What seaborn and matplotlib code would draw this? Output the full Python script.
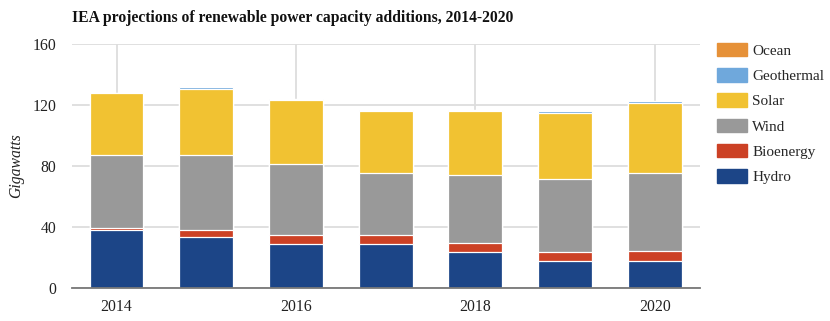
import numpy as np
import pandas as pd
import matplotlib
matplotlib.use("Agg")
import matplotlib.pyplot as plt
from matplotlib.patches import Patch
import seaborn as sns

years = ["2014", "2015", "2016", "2017", "2018", "2019", "2020"]
hydro = [37.8, 33.5, 28.5, 28.5, 23.3, 17.8, 17.8]
bioenergy = [1.6, 4.3, 6.0, 6.0, 6.2, 5.9, 6.4]
wind = [47.5, 49.0, 47.0, 40.9, 44.8, 47.6, 51.4]
solar = [40.8, 43.7, 42.0, 40.4, 42.0, 43.4, 45.8]
geothermal = [0.3, 1.5, 0.3, 1.1, 0.3, 1.3, 1.1]
ocean = [0.0, 0.0, 0.0, 0.0, 0.0, 0.0, 0.0]

series = ["Hydro", "Bioenergy", "Wind", "Solar", "Geothermal", "Ocean"]
colors = {
    "Hydro": "#1c4587",
    "Bioenergy": "#cc4125",
    "Wind": "#999999",
    "Solar": "#f1c232",
    "Geothermal": "#6fa8dc",
    "Ocean": "#e69138",
}

df = pd.DataFrame({
    "year": years, "Hydro": hydro, "Bioenergy": bioenergy, "Wind": wind,
    "Solar": solar, "Geothermal": geothermal, "Ocean": ocean,
})
cum = df[series].cumsum(axis=1)

sns.set_theme(style="white")
plt.rcParams["font.family"] = ["Liberation Serif", "DejaVu Serif"]

fig = plt.figure(figsize=(8.3, 3.21), dpi=100)
ax = fig.add_axes([0.0864, 0.1037, 0.7566, 0.7593])

# stacked bars: draw cumulative totals from the top segment down
for name in reversed(series):
    sns.barplot(x=df["year"], y=cum[name], color=colors[name], width=0.6,
                edgecolor="white", linewidth=0.9, saturation=1, ax=ax, zorder=3)

ax.set_ylim(0, 160)
ax.set_xlim(-0.5, 6.5)
ax.set_yticks([0, 40, 80, 120, 160])
ax.set_xticks([0, 2, 4, 6])
ax.set_xticklabels(["2014", "2016", "2018", "2020"])
ax.grid(True, color="#dddddd", linewidth=1.3, zorder=0)
ax.set_axisbelow(True)
for s in ["top", "right", "left"]:
    ax.spines[s].set_visible(False)
ax.spines["bottom"].set_color("#777777")
ax.spines["bottom"].set_linewidth(1.3)
ax.spines["bottom"].set_zorder(4)
ax.tick_params(axis="both", length=0, labelsize=11.3, colors="#222222")
ax.tick_params(axis="y", pad=11)
ax.tick_params(axis="x", pad=8)
ax.set_xlabel("")
ax.set_ylabel("Gigawatts", fontsize=11.3, style="italic", color="#222222", labelpad=6)

fig.text(0.087, 0.943, "IEA projections of renewable power capacity additions, 2014-2020",
         fontsize=11.25, fontweight="bold", color="#111111", ha="left", va="center")

handles = [Patch(facecolor=colors[n], edgecolor=colors[n], label=n) for n in reversed(series)]
fig.legend(handles=handles, loc="upper left", bbox_to_anchor=(0.864, 0.866),
           frameon=False, fontsize=11, handlelength=1.95, handleheight=0.98,
           labelspacing=0.67, handletextpad=0.35, borderaxespad=0, borderpad=0)

fig.savefig("out.png", dpi=100)
